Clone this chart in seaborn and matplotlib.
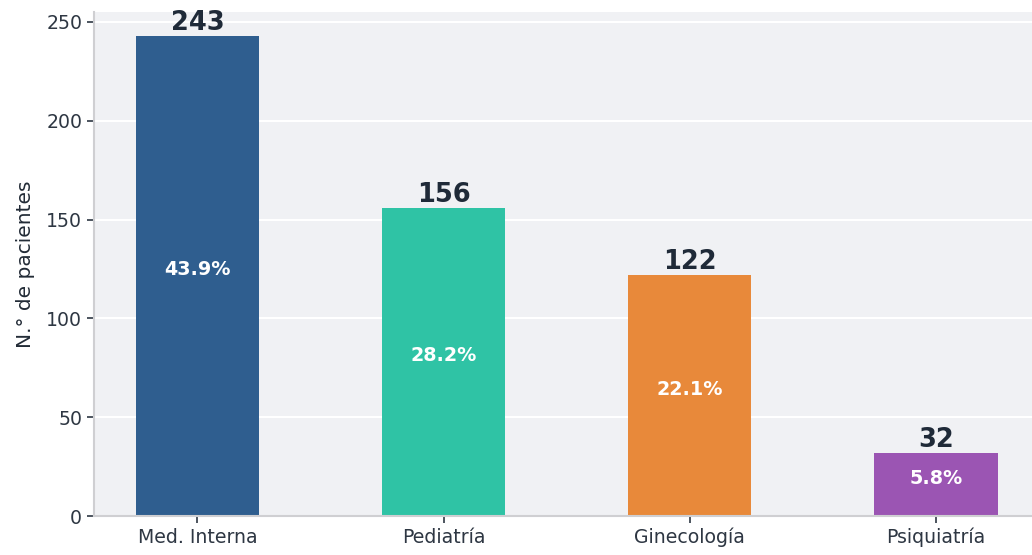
import matplotlib
matplotlib.use("Agg")
import matplotlib.pyplot as plt
import seaborn as sns
import pandas as pd

servicios = ["Med. Interna", "Pediatría", "Ginecología", "Psiquiatría"]
pacientes = [243, 156, 122, 32]
colores = ["#2f5e8f", "#2fc3a5", "#e8893a", "#9b55b3"]

sns.set_theme(style="darkgrid")
plt.rcParams["font.family"] = ["DejaVu Sans"]

df = pd.DataFrame({"servicio": servicios, "pacientes": pacientes})
total = sum(pacientes)

fig = plt.figure(figsize=(10.32, 5.55), dpi=100)
ax = fig.add_axes([94 / 1032, 39 / 555, 1 - 94 / 1032, (516 - 12) / 555])
ax.set_facecolor("#f0f1f4")

sns.barplot(data=df, x="servicio", y="pacientes", hue="servicio",
            palette=colores, width=0.5, saturation=1, legend=False,
            linewidth=0, ax=ax)

for i, v in enumerate(pacientes):
    ax.annotate(str(v), (i, v), xytext=(0, 0), textcoords="offset points",
                ha="center", va="bottom", fontsize=18.5, fontweight="bold",
                color="#1f2a38")
    ax.annotate(f"{v / total * 100:.1f}%", (i, v / 2), xytext=(0, 4.5),
                textcoords="offset points", ha="center", va="center",
                fontsize=13.8, fontweight="bold", color="white")

ax.set_ylim(0, 255)
ax.set_xlim(-0.42, 3.39)
ax.set_yticks([0, 50, 100, 150, 200, 250])
ax.set_xlabel("")
ax.set_ylabel("N.° de pacientes", fontsize=14.5, color="#222b36", labelpad=8)
ax.grid(axis="x", visible=False)
ax.grid(axis="y", color="white", linewidth=1.5)
ax.tick_params(axis="both", labelsize=13.6, colors="#2e3743", length=5,
               width=1.2, bottom=True, left=True)
for s in ["top", "right"]:
    ax.spines[s].set_visible(False)
for s in ["left", "bottom"]:
    ax.spines[s].set_visible(True)
    ax.spines[s].set_color("#cfcfd2")
    ax.spines[s].set_linewidth(1.5)

fig.savefig("out.png", dpi=100)
